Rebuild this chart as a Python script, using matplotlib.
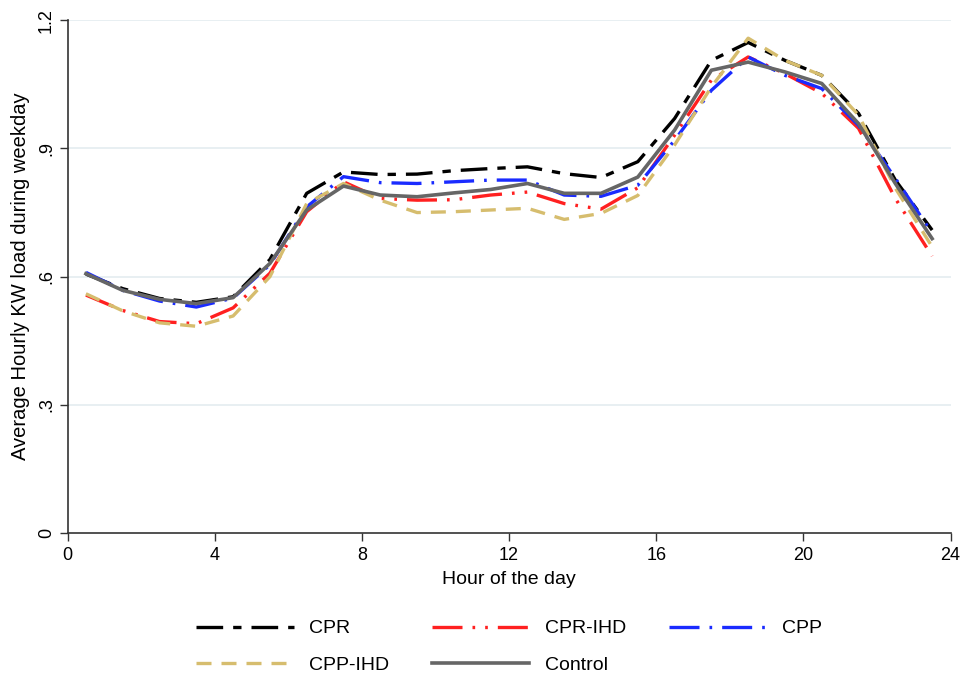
import matplotlib
matplotlib.use("Agg")
import matplotlib.pyplot as plt
import numpy as np

plt.rcParams["font.family"] = ["Liberation Sans", "DejaVu Sans"]

hours = np.arange(0.5, 24, 1.0)

cpr = [0.606, 0.572, 0.549, 0.540, 0.553, 0.640, 0.795, 0.845, 0.839, 0.840,
       0.848, 0.853, 0.857, 0.841, 0.832, 0.869, 0.970, 1.106, 1.148, 1.106,
       1.071, 0.982, 0.826, 0.709]
cpr_ihd = [0.557, 0.521, 0.495, 0.490, 0.527, 0.608, 0.752, 0.822, 0.783, 0.779,
           0.780, 0.791, 0.798, 0.771, 0.758, 0.808, 0.931, 1.060, 1.114, 1.075,
           1.029, 0.947, 0.783, 0.648]
cpp = [0.610, 0.568, 0.543, 0.529, 0.550, 0.628, 0.763, 0.834, 0.820, 0.818,
       0.822, 0.826, 0.826, 0.791, 0.788, 0.814, 0.919, 1.036, 1.114, 1.071,
       1.040, 0.954, 0.830, 0.702]
cpp_ihd = [0.560, 0.520, 0.492, 0.484, 0.508, 0.600, 0.771, 0.818, 0.779, 0.750,
           0.752, 0.756, 0.760, 0.734, 0.748, 0.790, 0.908, 1.044, 1.158, 1.106,
           1.071, 0.978, 0.807, 0.670]
control = [0.607, 0.568, 0.547, 0.537, 0.551, 0.631, 0.756, 0.812, 0.791, 0.787,
           0.796, 0.804, 0.818, 0.795, 0.795, 0.833, 0.943, 1.083, 1.102, 1.079,
           1.052, 0.958, 0.818, 0.689]

fig = plt.figure(figsize=(9.65, 6.74), dpi=100)
ax = fig.add_axes([0.070, 0.209, 0.915, 0.761])

for y in [0.3, 0.6, 0.9, 1.2]:
    ax.axhline(y, color="#e4ecf0", lw=1.2, zorder=0)

l_cpr, = ax.plot(hours, cpr, color="black", lw=2.4, dashes=(8, 3, 2.5, 3), label="CPR")
l_cprihd, = ax.plot(hours, cpr_ihd, color="#ff2020", lw=2.4,
                    dashes=(9, 3, 0.8, 3, 0.8, 3), label="CPR-IHD")
l_cpp, = ax.plot(hours, cpp, color="#1a2bff", lw=2.4, dashes=(9, 3, 0.8, 3), label="CPP")
l_cppihd, = ax.plot(hours, cpp_ihd, color="#d6bd6e", lw=2.4, dashes=(4.5, 3), label="CPP-IHD")
l_ctrl, = ax.plot(hours, control, color="#666666", lw=2.6, label="Control")

ax.set_xlim(0, 24)
ax.set_ylim(0, 1.2)
ax.set_xticks([0, 4, 8, 12, 16, 20, 24])
ax.set_yticks([0, 0.3, 0.6, 0.9, 1.2])
ax.set_yticklabels(["0", ".3", ".6", ".9", "1.2"], rotation=90, va="center")
ax.tick_params(axis="both", direction="out", length=6, width=1, color="#333333",
               labelsize=13)
ax.tick_params(axis="x", pad=4)
ax.tick_params(axis="y", pad=3)

for s in ["top", "right"]:
    ax.spines[s].set_visible(False)
for s in ["left", "bottom"]:
    ax.spines[s].set_color("#333333")
    ax.spines[s].set_linewidth(1.2)

ax.set_xlabel("Hour of the day", fontsize=14, labelpad=5)
ax.set_ylabel("Average Hourly KW load during weekday", fontsize=14.5, labelpad=6)

# legend fills by row: CPR, CPR-IHD, CPP / CPP-IHD, Control
handles = [l_cpr, l_cppihd, l_cprihd, l_ctrl, l_cpp]
ax.legend(handles=handles, labels=[h.get_label() for h in handles],
          loc="upper center", bbox_to_anchor=(0.50, -0.135), ncol=3, frameon=False,
          fontsize=14, handlelength=5.0, handletextpad=0.8, columnspacing=2.2,
          labelspacing=0.95)

fig.savefig("out.png", dpi=100, facecolor="white")
